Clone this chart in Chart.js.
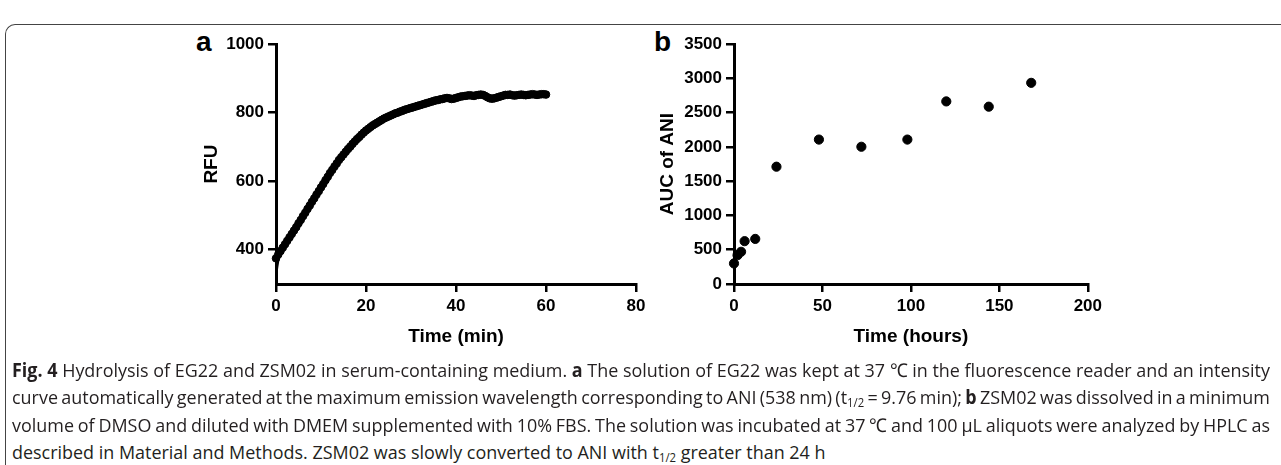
<!DOCTYPE html>
<html>
<head>
<meta charset="utf-8">
<script src="https://cdn.jsdelivr.net/npm/chart.js@4.4.1/dist/chart.umd.min.js"></script>
<style>
  html, body { margin: 0; padding: 0; background: #fff; }
  body { width: 1281px; height: 465px; position: relative; overflow: hidden; }
  canvas { position: absolute; }
  .frame {
    position: absolute; left: 5px; top: 24px; width: 1300px; height: 460px;
    border-top: 1.5px solid #444; border-left: 1.5px solid #444;
    border-top-left-radius: 10px;
  }
  .letter { position: absolute; font: bold 28px "Liberation Sans", Arial, sans-serif; color: #000; line-height: 1; }
  .cap {
    position: absolute; left: 12px; white-space: nowrap; transform-origin: 0 50%;
    font: 19px "Open Sans", "Liberation Sans", sans-serif; color: #231f20; line-height: 27px;
  }
  .cap b { font-weight: bold; }
  .cap sub { font-size: 12px; vertical-align: -3px; line-height: 0; }
</style>
</head>
<body>
<div class="frame"></div>
<div class="letter" style="left:196px;top:28px;">a</div>
<div class="letter" style="left:654px;top:28px;">b</div>

<canvas id="chartA" width="460" height="330" style="left:190px;top:30px;"></canvas>
<canvas id="chartB" width="456" height="330" style="left:650px;top:30px;"></canvas>

<div class="cap" id="c1" data-w="1258" style="top:357px;"><b>Fig. 4</b> Hydrolysis of EG22 and ZSM02 in serum-containing medium. <b>a</b> The solution of EG22 was kept at 37 ℃ in the fluorescence reader and an intensity</div>
<div class="cap" id="c2" data-w="1258" style="top:384px;">curve automatically generated at the maximum emission wavelength corresponding to ANI (538 nm) (t<sub>1/2</sub> = 9.76 min); <b>b</b> ZSM02 was dissolved in a minimum</div>
<div class="cap" id="c3" data-w="1258" style="top:412px;">volume of DMSO and diluted with DMEM supplemented with 10% FBS. The solution was incubated at 37 ℃ and 100 μL aliquots were analyzed by HPLC as</div>
<div class="cap" id="c4" data-w="0" style="top:439px;">described in Material and Methods. ZSM02 was slowly converted to ANI with t<sub>1/2</sub> greater than 24 h</div>

<script>
// panel a: fluorescence of EG22 (RFU vs minutes)
const timeA = [
  0, 0.5, 1, 1.5, 2, 2.5, 3, 3.5, 4, 4.5, 5, 5.5, 6, 6.5, 7, 7.5, 8, 8.5, 9, 9.5,
  10, 10.5, 11, 11.5, 12, 12.5, 13, 13.5, 14, 14.5, 15, 15.5, 16, 16.5, 17, 17.5, 18, 18.5, 19, 19.5,
  20, 20.5, 21, 21.5, 22, 22.5, 23, 23.5, 24, 24.5, 25, 25.5, 26, 26.5, 27, 27.5, 28, 28.5, 29, 29.5,
  30, 30.5, 31, 31.5, 32, 32.5, 33, 33.5, 34, 34.5, 35, 35.5, 36, 36.5, 37, 37.5, 38, 38.5, 39, 39.5,
  40, 40.5, 41, 41.5, 42, 42.5, 43, 43.5, 44, 44.5, 45, 45.5, 46, 46.5, 47, 47.5, 48, 48.5, 49, 49.5,
  50, 50.5, 51, 51.5, 52, 52.5, 53, 53.5, 54, 54.5, 55, 55.5, 56, 56.5, 57, 57.5, 58, 58.5, 59, 59.5,
  60
];
const rfuA = [
  375, 386, 396, 406, 416, 426, 436, 446, 456, 466, 477, 487, 498, 508, 519, 529, 540, 550, 561, 571,
  582, 592, 603, 613, 624, 633, 643, 652, 662, 670, 678, 686, 694, 701, 709, 716, 723, 729, 736, 742,
  748, 753, 758, 763, 767, 771, 775, 779, 783, 786, 789, 792, 795, 798, 800, 803, 805, 808, 810, 812,
  814, 816, 818, 820, 822, 824, 826, 828, 830, 832, 834, 836, 837, 839, 840, 842, 843, 842, 840, 841,
  843, 845, 847, 848, 849, 850, 851, 850, 849, 851, 852, 853, 852, 849, 845, 842, 841, 842, 844, 846,
  848, 850, 852, 852, 853, 851, 850, 851, 852, 853, 852, 851, 852, 853, 854, 853, 852, 853, 854, 854,
  853
];
// start of the fitted curve, visible below the first points
const fitTimeA = [0, 0.25, 0.5, 0.75, 1, 1.5, 2];
const fitRfuA = [310, 340, 362, 378, 392, 408, 418];
const xTicksA = [0, 20, 40, 60, 80];
const yTicksA = [400, 600, 800, 1000];

// panel b: AUC of ANI vs hours
const timeB = [0, 2, 4, 6, 12, 24, 48, 72, 98, 120, 144, 168];
const aucB = [300, 420, 470, 625, 658, 1712, 2108, 2003, 2108, 2665, 2588, 2936];
const xTicksB = [0, 50, 100, 150, 200];
const yTicksB = [0, 500, 1000, 1500, 2000, 2500, 3000, 3500];

Chart.defaults.color = '#000';
Chart.defaults.font.family = '"Liberation Sans", Arial, sans-serif';

function toPoints(xs, ys) {
  return xs.map((x, i) => ({ x: x, y: ys[i] }));
}

function axis(min, max, ticks, title, isY, size, titlePad) {
  return {
    type: 'linear',
    min: min,
    max: max,
    afterBuildTicks: s => { s.ticks = ticks.map(v => ({ value: v })); },
    afterFit: s => { if (isY) s.width = size; else s.height = size; },
    grid: { drawOnChartArea: false, drawTicks: true, tickLength: 8, color: '#000', lineWidth: 2.5 },
    border: { display: true, color: '#000', width: 3 },
    ticks: {
      padding: 4,
      maxRotation: 0,
      autoSkip: false,
      font: { size: 17, weight: 'bold' },
      callback: v => String(v)
    },
    title: {
      display: true,
      text: title,
      font: { size: 19, weight: 'bold' },
      padding: isY ? { top: titlePad, bottom: 0 } : { top: 0, bottom: titlePad }
    }
  };
}

function baseOptions(scales) {
  return {
    responsive: false,
    animation: false,
    devicePixelRatio: 1,
    layout: { padding: { top: 14, right: 14, bottom: 0, left: 0 } },
    plugins: { legend: { display: false }, tooltip: { enabled: false } },
    scales: scales
  };
}

new Chart(document.getElementById('chartA'), {
  type: 'scatter',
  data: {
    datasets: [
      {
        type: 'line',
        data: toPoints(fitTimeA, fitRfuA),
        borderColor: '#000',
        borderWidth: 1.5,
        pointRadius: 0,
        tension: 0.4,
        clip: false
      },
      {
        data: toPoints(timeA, rfuA),
        backgroundColor: '#000',
        borderColor: '#000',
        pointRadius: 3.8,
        clip: false
      }
    ]
  },
  options: baseOptions({
    x: axis(0, 80, xTicksA, 'Time (min)', false, 76, 12),
    y: axis(300, 1000, yTicksA, 'RFU', true, 86, 10)
  })
});

new Chart(document.getElementById('chartB'), {
  type: 'scatter',
  data: {
    datasets: [
      {
        data: toPoints(timeB, aucB),
        backgroundColor: '#000',
        borderColor: '#000',
        pointRadius: 4.6,
        clip: false
      }
    ]
  },
  options: baseOptions({
    x: axis(0, 200, xTicksB, 'Time (hours)', false, 76, 12),
    y: axis(0, 3500, yTicksB, 'AUC of ANI', true, 84, 6)
  })
});

// caption: one horizontal squeeze taken from the first line, full lines justified
const caps = Array.from(document.querySelectorAll('.cap'));
const squeeze = Number(caps[0].dataset.w) / caps[0].getBoundingClientRect().width;
caps.forEach(el => {
  const target = Number(el.dataset.w);
  if (target > 0) {
    const w = el.getBoundingClientRect().width;
    const gaps = (el.textContent.match(/ /g) || []).length;
    if (gaps > 0) el.style.wordSpacing = ((target / squeeze - w) / gaps) + 'px';
  }
  el.style.transform = 'scaleX(' + squeeze + ')';
});
</script>
</body>
</html>
